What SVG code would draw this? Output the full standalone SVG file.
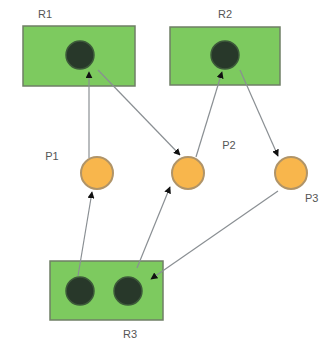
<svg xmlns="http://www.w3.org/2000/svg" width="320" height="340" viewBox="0 0 320 340">
<defs>
<style>
.box{fill:#7dca5f;stroke:#6f7f66;stroke-width:1.5}
.tok{fill:#28382a;stroke:#3d5a3a;stroke-width:1.5}
.pl{fill:#f8b64c;stroke:#b09468;stroke-width:2}
.lbl{font-family:"Liberation Sans",Arial,sans-serif;font-size:11px;fill:#555}
.arc{stroke:#8a8f93;stroke-width:1.2;fill:none;marker-end:url(#ah)}
</style>
<marker id="ah" viewBox="0 0 10 10" refX="9" refY="5" markerWidth="7" markerHeight="7" orient="auto" markerUnits="userSpaceOnUse">
<path d="M0,0 L10,5 L0,10 z" fill="#111"/>
</marker>
</defs>
<rect width="320" height="340" fill="#fff"/>
<g id="R1">
<rect class="box" x="23" y="26" width="112" height="60"/>
<circle class="tok" cx="80" cy="55" r="14"/>
<text class="lbl" x="45" y="18" text-anchor="middle">R1</text>
</g>
<g id="R2">
<rect class="box" x="170" y="27" width="110" height="58"/>
<circle class="tok" cx="225" cy="55" r="14"/>
<text class="lbl" x="225" y="18" text-anchor="middle">R2</text>
</g>
<g id="P1">
<circle class="pl" cx="97" cy="173" r="16"/>
<text class="lbl" x="52" y="160" text-anchor="middle">P1</text>
</g>
<g id="P2">
<circle class="pl" cx="188" cy="173" r="16"/>
<text class="lbl" x="229" y="149" text-anchor="middle">P2</text>
</g>
<g id="P3">
<circle class="pl" cx="291" cy="173" r="16"/>
<text class="lbl" x="305" y="202">P3</text>
</g>
<g id="R3">
<rect class="box" x="50" y="261" width="113" height="59"/>
<circle class="tok" cx="80" cy="291" r="14"/>
<circle class="tok" cx="128" cy="291" r="14"/>
<text class="lbl" x="130" y="338" text-anchor="middle">R3</text>
</g>
<g id="connectors">
<line class="arc" x1="78" y1="276" x2="92" y2="192"/>
<line class="arc" x1="89" y1="158" x2="89" y2="72"/>
<line class="arc" x1="98" y1="70" x2="180" y2="155"/>
<line class="arc" x1="137" y1="268" x2="170" y2="187"/>
<line class="arc" x1="196" y1="157" x2="222" y2="72"/>
<line class="arc" x1="240" y1="70" x2="278" y2="156"/>
<line class="arc" x1="278" y1="191" x2="151" y2="279"/>
</g>
</svg>
